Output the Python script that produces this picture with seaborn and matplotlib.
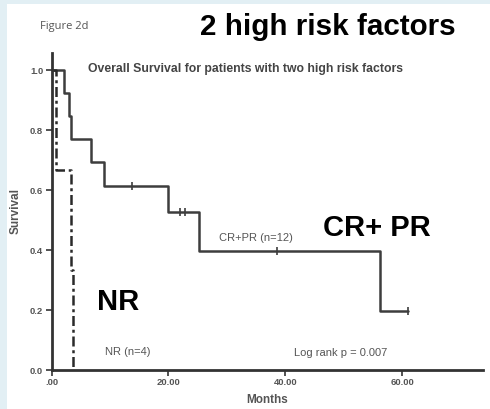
import matplotlib
matplotlib.use("Agg")
import matplotlib.pyplot as plt
import seaborn as sns
import pandas as pd
from matplotlib.patches import Rectangle

# Kaplan-Meier step data (months, survival proportion)
crpr_months = [0.0, 2.1, 3.0, 3.4, 6.7, 9.0, 20.0, 25.2, 56.1, 60.9]
crpr_surv = [1.0, 0.923, 0.846, 0.769, 0.692, 0.615, 0.527, 0.396, 0.198, 0.198]
crpr_censor_months = [13.8, 21.9, 22.9, 38.6, 60.9]
crpr_censor_surv = [0.615, 0.527, 0.527, 0.396, 0.198]

nr_months = [0.0, 0.8, 3.3, 3.7]
nr_surv = [1.0, 0.667, 0.333, 0.0]

x_ticks = [0, 20, 40, 60]
x_tick_labels = [".00", "20.00", "40.00", "60.00"]
y_ticks = [0.0, 0.2, 0.4, 0.6, 0.8, 1.0]
y_tick_labels = ["0.0", "0.2", "0.4", "0.6", "0.8", "1.0"]

sns.set_theme(style="white")
plt.rcParams["font.family"] = ["Liberation Sans", "DejaVu Sans"]

W, H = 490, 409
fig = plt.figure(figsize=(W / 100, H / 100), dpi=100, facecolor="#e2eff4")
fig.patches.append(Rectangle((7 / W, 0), 1, 1 - 4 / H, transform=fig.transFigure,
                             facecolor="white", edgecolor="none", zorder=-5))

ax = fig.add_axes([51.5 / W, 1 - 370 / H, (483 - 51.5) / W, (370 - 53) / H])
ax.set_facecolor("none")
ax.set_zorder(2)

line_col = "#3d3d3d"
crpr = pd.DataFrame({"Months": crpr_months, "Survival": crpr_surv})
nr = pd.DataFrame({"Months": nr_months, "Survival": nr_surv})
cens = pd.DataFrame({"Months": crpr_censor_months, "Survival": crpr_censor_surv})

sns.lineplot(data=crpr, x="Months", y="Survival", ax=ax, color=line_col,
             linewidth=1.8, drawstyle="steps-post", estimator=None)
sns.lineplot(data=nr, x="Months", y="Survival", ax=ax, color="#2a2a2a",
             linewidth=1.8, drawstyle="steps-post", estimator=None,
             linestyle=(0, (4, 1.5, 1.2, 1.5)))
sns.scatterplot(data=cens, x="Months", y="Survival", ax=ax, marker="|",
                s=30, color=line_col, linewidth=1.2)

ax.set_xlim(0, 73.8)
ax.set_ylim(0, 1.057)
ax.set_xticks(x_ticks)
ax.set_xticklabels(x_tick_labels)
ax.set_yticks(y_ticks)
ax.set_yticklabels(y_tick_labels)

for side in ["top", "right"]:
    ax.spines[side].set_visible(False)
for side in ["left", "bottom"]:
    ax.spines[side].set_color("#333333")
    ax.spines[side].set_linewidth(2.0)

ax.tick_params(axis="both", direction="out", length=4, width=1.2, color="#333333",
               labelsize=6.8, labelcolor="#555555", pad=2, bottom=True, left=True)
for lab in ax.get_xticklabels() + ax.get_yticklabels():
    lab.set_fontweight("bold")

ax.set_xlabel("Months", fontsize=8.5, fontweight="bold", color="#555555", labelpad=5)
ax.set_ylabel("Survival", fontsize=8.5, fontweight="bold", color="#555555", labelpad=6)

ax.text(0.085, 0.95, "Overall Survival for patients with two high risk factors",
        transform=ax.transAxes, fontsize=8.8, fontweight="bold", color="#444444",
        va="center", ha="left")
ax.text(35.0, 0.44, "CR+PR (n=12)", fontsize=8, color="#555555", ha="center", va="center")
ax.text(13.1, 0.06, "NR (n=4)", fontsize=8, color="#555555", ha="center", va="center")
ax.text(49.4, 0.057, "Log rank p = 0.007", fontsize=8, color="#555555", ha="center", va="center")
ax.text(55.6, 0.473, "CR+ PR", fontsize=21, fontweight="bold", color="black", ha="center", va="center")
ax.text(11.4, 0.227, "NR", fontsize=21, fontweight="bold", color="black", ha="center", va="center")

fig.text(40 / W, 1 - 27 / H, "Figure 2d", fontsize=8, color="#555555",
         family=["Open Sans", "DejaVu Sans"], va="center", ha="left")
fig.text(327.5 / W, 1 - 27 / H, "2 high risk factors", fontsize=21.3, fontweight="bold",
         color="black", va="center", ha="center")

fig.savefig("out.png", dpi=100, facecolor=fig.get_facecolor())
